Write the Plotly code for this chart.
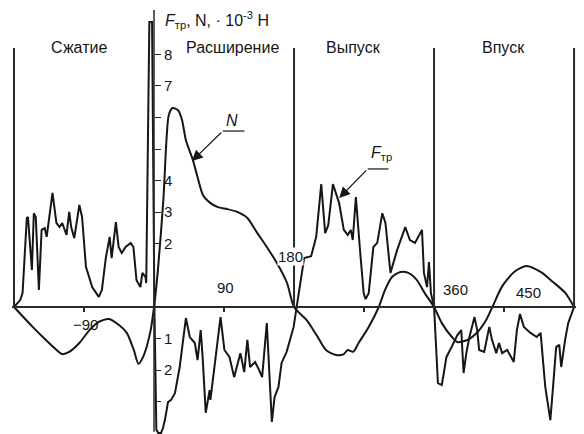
import plotly.graph_objects as go

# ---- data: crank angle (deg) and force (·10^-3 H) ----
# Normal force N
n_compression = [(-180, 0), (-156, -0.63), (-143, -0.95), (-128, -1.30), (-118, -1.49), (-109, -1.42),
                 (-96, -1.14), (-83, -0.73), (-71, -0.47), (-58, -0.38), (-45, -0.57), (-35, -0.82),
                 (-26, -1.36), (-20, -1.80), (-14, -1.58), (-5, -0.82)]
n_expansion = [(0, 0), (5, 1.17), (12, 3.39), (16, 5.28), (19, 6.08), (24, 6.30), (31, 6.23), (36, 5.92),
               (41, 5.28), (50, 4.65), (56, 4.11), (63, 3.54), (71, 3.32), (82, 3.16), (94, 3.10),
               (107, 3.01), (120, 2.82), (132, 2.37), (145, 1.90), (158, 1.39), (171, 0.76)]
n_exhaust = [(180, 0), (196, -0.41), (209, -0.89), (221, -1.36), (234, -1.52), (244, -1.49), (249, -1.36),
             (256, -1.42), (263, -1.14), (276, -0.63), (289, 0), (297, 0.54), (306, 0.95), (317, 1.11),
             (327, 1.08), (338, 0.85), (348, 0.44)]
n_intake = [(360, 0), (370, -0.51), (383, -0.95), (390, -1.11), (403, -1.04), (416, -0.79), (427, -0.41),
            (435, 0), (447, 0.63), (463, 1.11), (479, 1.30), (497, 1.11), (513, 0.79), (529, 0.44), (540, 0)]

# Friction force F_tr
f_compression = [(-180, 0), (-172, 0.22), (-169, 0.44), (-163.5, 2.82), (-162, 2.85), (-157, 1.17),
                 (-154.5, 2.97), (-152, 2.85), (-148, 0.54), (-144.5, 2.44), (-140.5, 2.50), (-138, 2.22),
                 (-130.5, 3.61), (-125.5, 2.66), (-121.5, 2.53), (-118, 2.66), (-112.5, 2.28), (-109, 3.01),
                 (-106.5, 2.53), (-102.5, 2.18), (-96, 3.23), (-92.5, 2.85), (-87.5, 1.27), (-79.5, 0.63),
                 (-71, 0.32), (-67, 0.54), (-62, 1.55), (-57, 2.22), (-54.5, 1.55), (-49, 2.69),
                 (-45.5, 1.90), (-41.5, 1.71), (-36.5, 1.90), (-30, 2.03), (-26.5, 1.90), (-22.5, 0.85),
                 (-17.5, 0.63), (-15, 1.08), (-11, 0.95), (-10, 0.76), (-6, 9.02), (-2.5, 9.02)]
f_expansion = [(0.5, 0), (3, -3.89), (5.5, -3.99), (9, -3.99), (11.5, -3.83), (14, -3.58), (18, -3.01),
               (22, -2.94), (27, -2.72), (33, -1.90), (41, -0.35), (46, -0.95), (52.5, -1.14), (56, -1.68),
               (60, -0.73), (62.5, -1.58), (66.5, -3.35), (71.5, -2.63), (72.5, -2.94), (79, -1.58),
               (85.5, -0.32), (90.5, -1.36), (97, -1.58), (103, -2.22), (107, -1.84), (111, -1.46),
               (116, -2.06), (120, -1.04), (123.5, -1.90), (130, -1.74), (135, -1.99), (139, -2.22),
               (145, -0.51), (149, -2.63), (151.5, -3.64), (155, -2.85), (160, -2.53), (164, -1.77),
               (170.5, -1.42), (179.5, -0.63)]
f_exhaust = [(183, -0.09), (193, 1.55), (202, 1.61), (208.5, 2.22), (215, 3.89), (220, 2.34), (224, 2.59),
             (230, 3.89), (238, 3.29), (244, 2.44), (249, 2.28), (253, 2.44), (255.5, 2.12), (259.5, 3.48),
             (264.5, 1.90), (269.5, 0.44), (272, 0.25), (276, 0.44), (282, 1.90), (287, 2.03), (293.5, 2.97),
             (297.5, 2.66), (304, 1.08), (312.5, 1.80), (323, 2.53), (329, 2.12), (335.5, 2.03),
             (344.5, 2.44), (347, 1.08), (351, 0.63), (353.5, 1.42), (356, 0.44)]
f_intake = [(360, 0), (362, -1.04), (365, -2.41), (370, -2.47), (376, -1.58), (382.5, -1.27), (390, -0.89),
            (395, -0.73), (398, -2.09), (401.5, -1.46), (405.5, -0.95), (412, -0.32), (415.5, -0.73),
            (418, -1.36), (424.5, -1.42), (431, -0.63), (434.5, -1.04), (440, -1.46), (443.5, -1.14),
            (447.5, -1.46), (454, -1.36), (459, -1.58), (462.5, -1.74), (466.5, -0.73), (470.5, -0.22),
            (475.5, -0.63), (484, -0.82), (492, -0.95), (497, -0.82), (503, -2.53), (509.5, -3.58),
            (513, -2.53), (517, -1.27), (521, -1.20), (523.5, -1.90), (528.5, -1.04), (532.5, -0.51),
            (540, 0)]

stroke_bounds = [-180, 180, 360, 540]
stroke_names = ["Сжатие", "Расширение", "Выпуск", "Впуск"]
stroke_label_x = [-96, 101, 256, 449]

y_tickvals = [-3, -2, -1, 2, 3, 4, 5, 6, 7, 8]
y_ticktext = ["", "2", "1", "2", "3", "4", "", "", "7", "8"]
x_tickvals = [-90, 90, 270, 450]
x_labels = [(-88, -0.54, "−90"), (92, 0.63, "90"), (176, 1.61, "180"), (387, 0.54, "360"), (481, 0.47, "450")]

# ---- figure ----
# The page body keeps an 8 px margin and the visible width ends near 576 px,
# so the figure is 568x426 and the ranges are chosen to fit the whole chart.
X_MIN, X_MAX = -182.57, 542.5
Y_MIN, Y_MAX = -4.02, 9.465
INK = "#161616"
FONT = "Arial, 'Liberation Sans', sans-serif"

n_pts = n_compression + n_expansion + n_exhaust + n_intake
f_pts = f_compression + f_expansion + f_exhaust + f_intake

fig = go.Figure()
fig.add_trace(go.Scatter(x=[p[0] for p in n_pts], y=[p[1] for p in n_pts], mode="lines",
                         line=dict(color=INK, width=2, shape="spline", smoothing=0.7),
                         hoverinfo="skip", name="N"))
fig.add_trace(go.Scatter(x=[p[0] for p in f_pts], y=[p[1] for p in f_pts], mode="lines",
                         line=dict(color=INK, width=2), hoverinfo="skip", name="F"))

shapes = []
for b in stroke_bounds:
    shapes.append(dict(type="line", xref="x", yref="y", x0=b, x1=b, y0=0, y1=8.2,
                       line=dict(color="#2a2a2a", width=2)))
# vertical axis line
shapes.append(dict(type="line", xref="x", yref="y", x0=0, x1=0, y0=-3.95, y1=9.4,
                   line=dict(color="#2a2a2a", width=1.5)))
# underlines of the curve labels
shapes.append(dict(type="line", xref="x", yref="y", x0=88.4, x1=116.3, y0=5.57, y1=5.57,
                   line=dict(color=INK, width=1.2)))
shapes.append(dict(type="line", xref="x", yref="y", x0=274.8, x1=301.5, y0=4.37, y1=4.37,
                   line=dict(color=INK, width=1.2)))

ann = []
for name, xc in zip(stroke_names, stroke_label_x):
    ann.append(dict(x=xc, y=8.23, xref="x", yref="y", text=name, showarrow=False,
                    font=dict(size=16, color=INK, family=FONT)))
for xv, yv, t in x_labels:
    extra = dict(bgcolor="white", borderpad=0) if t == "180" else {}
    ann.append(dict(x=xv, y=yv, xref="x", yref="y", text=t, showarrow=False,
                    font=dict(size=15, color=INK, family=FONT), **extra))
ann.append(dict(x=12, y=9.08, xref="x", yref="y", xanchor="left",
                text="<i>F</i><sub>тр</sub>, N, · 10<sup>-3</sup> H", showarrow=False,
                font=dict(size=16, color=INK, family=FONT)))
ann.append(dict(x=99.8, y=5.89, xref="x", yref="y", text="<i>N</i>", showarrow=False,
                font=dict(size=16, color=INK, family=FONT)))
ann.append(dict(x=292.6, y=4.85, xref="x", yref="y", text="<i>F</i><sub>тр</sub>", showarrow=False,
                font=dict(size=16, color=INK, family=FONT)))
# arrows
ann.append(dict(x=48.8, y=4.62, xref="x", yref="y", ax=88.4, ay=5.57, axref="x", ayref="y",
                text="", showarrow=True, arrowhead=2, arrowsize=1.8, arrowwidth=1.2, arrowcolor=INK))
ann.append(dict(x=238, y=3.45, xref="x", yref="y", ax=274.8, ay=4.37, axref="x", ayref="y",
                text="", showarrow=True, arrowhead=2, arrowsize=1.8, arrowwidth=1.2, arrowcolor=INK))

fig.update_layout(
    width=568, height=426,
    margin=dict(l=4, r=0, t=0, b=0),
    paper_bgcolor="white", plot_bgcolor="white",
    showlegend=False,
    font=dict(family=FONT, color=INK),
    shapes=shapes, annotations=ann,
    xaxis=dict(range=[X_MIN, X_MAX], anchor="free",
               position=(0 - Y_MIN) / (Y_MAX - Y_MIN),
               showline=True, linecolor="#2a2a2a", linewidth=1.5,
               ticks="outside", ticklen=4, tickwidth=1.5, tickcolor="#2a2a2a",
               tickvals=x_tickvals, showticklabels=False,
               showgrid=False, zeroline=False, automargin=False, fixedrange=True),
    yaxis=dict(range=[Y_MIN, Y_MAX], anchor="free", side="right",
               position=(0 - X_MIN) / (X_MAX - X_MIN),
               showline=False, ticks="outside", ticklen=6, tickwidth=1.2, tickcolor="#2a2a2a",
               tickvals=y_tickvals, ticktext=y_ticktext,
               tickfont=dict(size=15, color=INK, family=FONT),
               showgrid=False, zeroline=False, automargin=False, fixedrange=True),
)

fig.write_html("out.html")
